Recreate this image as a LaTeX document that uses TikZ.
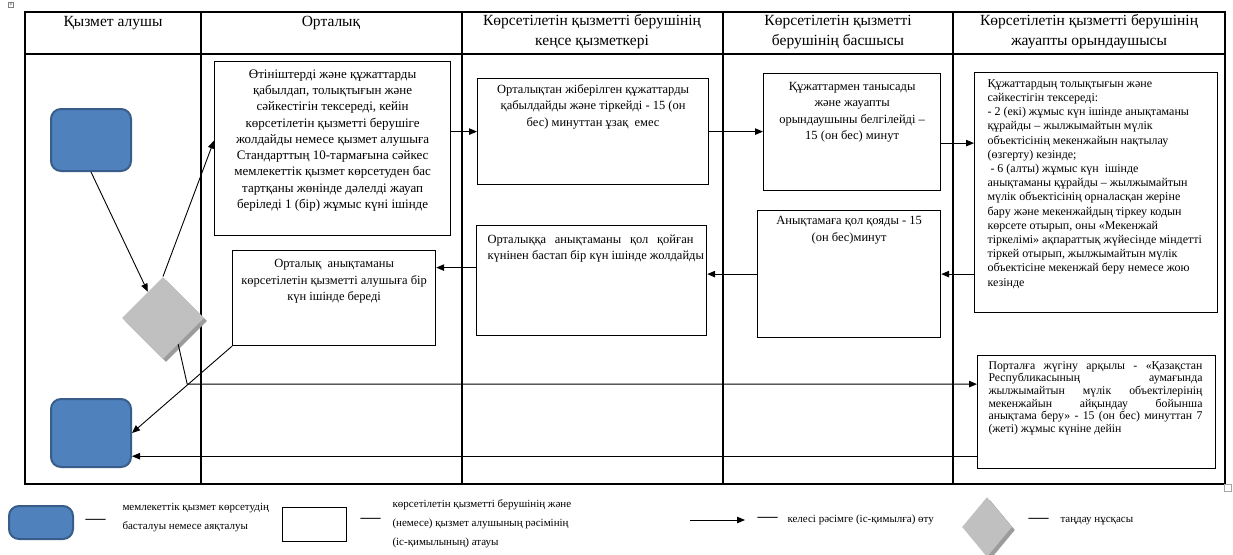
\documentclass[tikz,border=0pt]{standalone}
\usepackage{fontspec}
\setmainfont{Liberation Serif}
\usetikzlibrary{shapes.geometric,arrows.meta}

\definecolor{stblue}{HTML}{4F81BD}
\definecolor{stborder}{HTML}{385D8A}
\definecolor{dgray}{HTML}{C0C0C0}
\definecolor{dshadow}{HTML}{9C9C9C}

\begin{document}
\begin{tikzpicture}[x=1pt,y=-1pt,line width=1pt,
  grid/.style={line width=1.2pt},
  head/.style={align=center,inner sep=0pt,font=\fontsize{15.5}{20}\selectfont},
  stepbox/.style={draw,line width=1.2pt,anchor=north west,inner sep=0pt},
  boxtext/.style={anchor=north,align=center,inner sep=0pt,font=\fontsize{12.5}{16.3}\selectfont},
  smalltext/.style={anchor=north west,align=left,inner sep=0pt,font=\fontsize{12}{14.2}\selectfont},
  endbox/.style={draw=stborder,fill=stblue,line width=2pt,rounded corners=10pt,anchor=north west},
  choice/.style={diamond,fill=dgray,inner sep=0pt},
  conn/.style={-{Triangle[length=8pt,width=6.5pt]},line width=0.9pt},
  legtext/.style={anchor=west,align=left,inner sep=0pt,font=\fontsize{11}{19}\selectfont},
  legdash/.style={anchor=west,inner sep=0pt,font=\fontsize{20}{20}\selectfont}]

\useasboundingbox (0,0) rectangle (1233,554);

\draw[grid] (25,12) rectangle (1225,484);
\draw[grid] (25,54) -- (1225,54);
\draw[grid] (201,12) -- (201,484);
\draw[grid] (462,12) -- (462,484);
\draw[grid] (723,12) -- (723,484);
\draw[grid] (953,12) -- (953,484);

\node[draw=gray,inner sep=1pt,font=\fontsize{6}{6}\selectfont] (mark-a) at (11,5) {+};
\node[draw=gray!70,minimum size=7pt,inner sep=0pt] (mark-b) at (1228,488) {};

\node[head] (h1) at (113,23) {Қызмет алушы};
\node[head] (h2) at (331,23) {Орталық};
\node[head] (h3) at (592,32) {Көрсетілетін қызметті берушінің\\кеңсе қызметкері};
\node[head] (h4) at (838,32) {Көрсетілетін қызметті\\берушінің басшысы};
\node[head] (h5) at (1089,32) {Көрсетілетін қызметті берушінің\\жауапты орындаушысы};

\node[endbox,minimum width=80pt,minimum height=62pt] (start) at (50,108) {};
\node[endbox,minimum width=80pt,minimum height=68pt] (finish) at (50,398) {};
\node[choice,fill=dshadow,minimum width=82pt,minimum height=82pt] (dia-s) at (166,321) {};
\node[choice,minimum width=82pt,minimum height=82pt] (dia) at (163,318) {};

\node[stepbox,minimum width=236pt,minimum height=174pt] (ortalyk) at (214,61) {};
\node[boxtext,font=\fontsize{13}{16.3}\selectfont] (ortalyk-t) at ([yshift=-8pt]ortalyk.north) {Өтініштерді және құжаттарды\\қабылдап, толықтығын және\\сәйкестігін тексереді, кейін\\көрсетілетін қызметті берушіге\\жолдайды немесе қызмет алушыға\\Стандарттың 10-тармағына сәйкес\\мемлекеттік қызмет көрсетуден бас\\тартқаны жөнінде дәлелді жауап\\беріледі 1 (бір) жұмыс күні ішінде};

\node[stepbox,minimum width=231pt,minimum height=106pt] (kense) at (477,78) {};
\node[boxtext] (kense-t) at ([yshift=-6pt]kense.north) {Орталықтан жіберілген құжаттарды\\қабылдайды және тіркейді - 15 (он\\бес) минуттан ұзақ \ емес};

\node[stepbox,minimum width=177pt,minimum height=117pt] (basshy) at (763,73) {};
\node[boxtext] (basshy-t) at ([yshift=-9pt]basshy.north) {Құжаттармен танысады\\және жауапты\\орындаушыны белгілейді –\\15 (он бес) минут};

\node[stepbox,minimum width=243pt,minimum height=240pt] (jauapty) at (974,72) {};
\node[smalltext] (jauapty-t) at ([xshift=13pt,yshift=-7pt]jauapty.north west) {Құжаттардың толықтығын және\\сәйкестігін тексереді:\\- 2 (екі) жұмыс күн ішінде анықтаманы\\құрайды – жылжымайтын мүлік\\объектісінің мекенжайын нақтылау\\(өзгерту) кезінде;\\ \ - 6 (алты) жұмыс күн \ ішінде\\анықтаманы құрайды – жылжымайтын\\мүлік объектісінің орналасқан жеріне\\бару және мекенжайдың тіркеу кодын\\көрсете отырып, оны «Мекенжай\\тіркелімі» ақпараттық жүйесінде міндетті\\тіркей отырып, жылжымайтын мүлік\\объектісіне мекенжай беру немесе жою\\кезінде};

\node[stepbox,minimum width=183pt,minimum height=127pt] (qol) at (757,210) {};
\node[boxtext] (qol-t) at ([yshift=-6pt]qol.north) {Анықтамаға қол қояды - 15\\(он бес)минут};

\node[stepbox,minimum width=230pt,minimum height=110pt] (ortalykqa) at (476,225) {};
\node[smalltext,font=\fontsize{12.5}{16.3}\selectfont] (ortalykqa-t) at ([xshift=11pt,yshift=-9pt]ortalykqa.north west) {\makebox[206pt][s]{Орталыққа анықтаманы қол қойған}\\күнінен бастап бір күн ішінде жолдайды};

\node[stepbox,minimum width=203pt,minimum height=95pt] (beru) at (232,250) {};
\node[boxtext] (beru-t) at ([yshift=-9pt]beru.north) {Орталық \ анықтаманы\\көрсетілетін қызметті алушыға бір\\күн ішінде береді};

\node[stepbox,minimum width=238pt,minimum height=113pt] (portal) at (977,355) {};
\node[smalltext,font=\fontsize{11.8}{12.6}\selectfont] (portal-t) at ([xshift=11pt,yshift=-6pt]portal.north west) {\makebox[214pt][s]{Порталға жүгіну арқылы - «Қазақстан}\\\makebox[214pt][s]{Республикасының аумағында}\\\makebox[214pt][s]{жылжымайтын мүлік объектілерінің}\\\makebox[214pt][s]{мекенжайын айқындау бойынша}\\\makebox[214pt][s]{анықтама беру» - 15 (он бес) минуттан 7}\\(жеті) жұмыс күніне дейін};

\draw[conn] (start.south) -- (dia.120);
\draw[conn] (dia.north) -- ([yshift=8pt]ortalyk.west);
\draw[conn] (ortalyk.east |- kense.west) -- (kense.west);
\draw[conn] (kense.east) -- (kense.east -| basshy.west);
\coordinate (a3) at ([yshift=-11pt]basshy.east);
\draw[conn] (a3) -- (a3 -| jauapty.west);
\draw[conn] (jauapty.west |- qol.east) -- (qol.east);
\draw[conn] (qol.west) -- (qol.west -| ortalykqa.east);
\coordinate (a6) at ([yshift=13pt]ortalykqa.west);
\draw[conn] (a6) -- (a6 -| beru.east);
\coordinate (a7) at ([yshift=28pt]portal.west);
\coordinate (a8) at ([xshift=9pt]dia.300);
\draw[conn] (dia.300) -- (a8 |- a7) -- (a7);
\coordinate (a9) at ([yshift=13pt]portal.south west);
\draw[conn] (a9) -- (a9 -| finish.east);
\draw[conn] (beru.south west) -- (finish.east);

\node[endbox,minimum width=64pt,minimum height=33pt] (leg-start) at (8,505) {};
\node[legdash] (leg-d1) at (85,522) {—};
\node[legtext] (leg-t1) at (122,518) {мемлекеттік қызмет көрсетудің\\басталуы немесе аяқталуы};
\node[stepbox,minimum width=64pt,minimum height=34pt] (leg-step) at (282,507) {};
\node[legdash] (leg-d2) at (360,521) {—};
\node[legtext] (leg-t2) at (392,524) {көрсетілетін қызметті берушінің және\\(немесе) қызмет алушының рәсімінің\\(іс-қимылының) атауы};
\coordinate (leg-a) at (690,520);
\coordinate (leg-b) at (745,520);
\draw[conn] (leg-a) -- (leg-b);
\node[legdash] (leg-d3) at (757,520) {—};
\node[legtext] (leg-t3) at (787,520) {келесі рәсімге (іс-қимылға) өту};
\node[choice,fill=dshadow,minimum width=50pt,minimum height=60pt] (leg-dia-s) at (990,530) {};
\node[choice,minimum width=50pt,minimum height=60pt] (leg-dia) at (987,527) {};
\node[legdash] (leg-d4) at (1028,521) {—};
\node[legtext] (leg-t4) at (1060,521) {таңдау нұсқасы};
\end{tikzpicture}
\end{document}
